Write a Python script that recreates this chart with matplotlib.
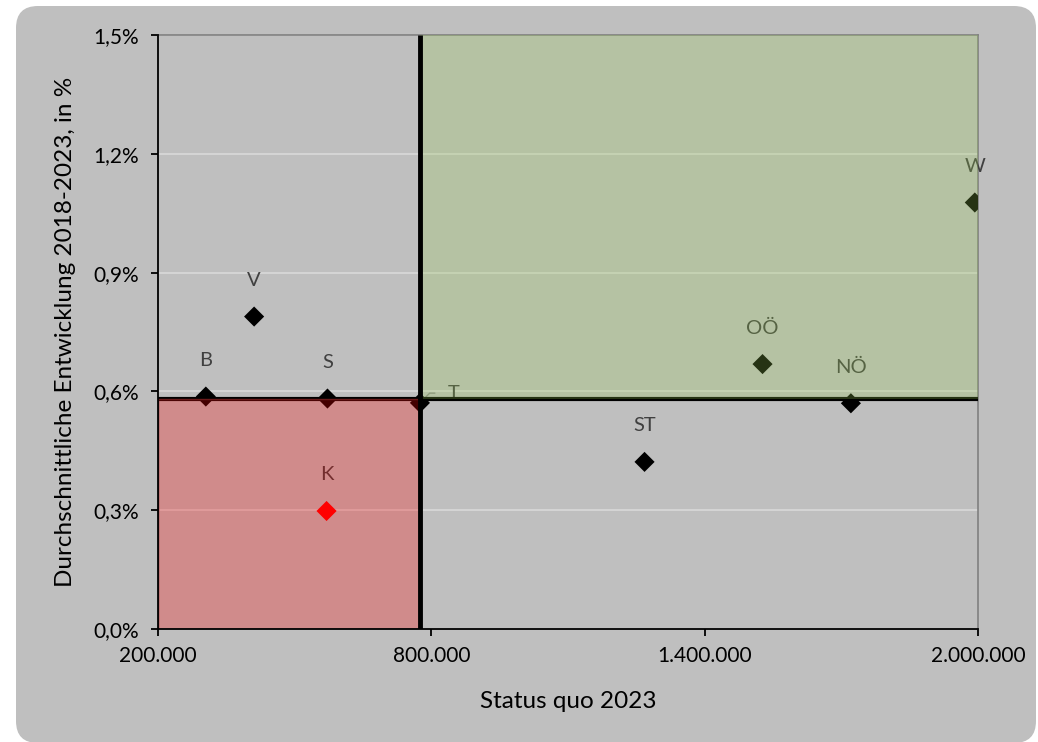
import numpy as np
import matplotlib
matplotlib.use("Agg")
import matplotlib.pyplot as plt
import matplotlib.transforms as mtransforms
from matplotlib.patches import FancyBboxPatch, Rectangle
from matplotlib.ticker import FuncFormatter, FixedLocator

plt.rcParams['font.family'] = ['Lato', 'DejaVu Sans']

# --- Data ---
regions = ["B", "V", "S", "K", "T", "ST", "OÖ", "NÖ", "W"]
status_quo = [305000, 411000, 572000, 570000, 775000, 1268000, 1527000, 1721000, 1993000]
growth_pct = [0.587, 0.789, 0.582, 0.298, 0.571, 0.422, 0.669, 0.570, 1.077]
point_colors = ["black", "black", "black", "red", "black", "black", "black", "black", "black"]

x_ticks = [200000, 800000, 1400000, 2000000]
y_ticks = [0.0, 0.3, 0.6, 0.9, 1.2, 1.5]

x_mid = np.median(status_quo)     # vertical split
y_mid = np.median(growth_pct)     # horizontal split

fig = plt.figure(figsize=(10.38, 7.42), dpi=100)
fig.patch.set_facecolor("white")

# rounded grey chart area
bg = FancyBboxPatch((16, -1), 1020, 737, boxstyle="round,pad=0,rounding_size=22",
                    transform=mtransforms.IdentityTransform(),
                    facecolor="#BFBFBF", edgecolor="none", zorder=-10)
fig.patches.append(bg)

ax = fig.add_axes([158 / 1038, 1 - 629 / 742, 820 / 1038, 594 / 742])
ax.set_zorder(1)
ax.set_facecolor("#BFBFBF")
ax.set_xlim(x_ticks[0], x_ticks[-1])
ax.set_ylim(y_ticks[0], y_ticks[-1])

# gridlines
ax.yaxis.grid(True, color="#D9D9D9", lw=1.2, zorder=0)
ax.set_axisbelow(True)

# points + labels
ax.scatter(status_quo, growth_pct, marker="D", s=105, c=point_colors,
           linewidths=0, zorder=3)
for name, x, y in zip(regions, status_quo, growth_pct):
    if name == "T":
        ax.annotate(name, (x, y), xytext=(24, 7), textcoords="offset points",
                    ha="center", va="center", fontsize=14.5, color="#404040", zorder=3,
                    arrowprops=dict(arrowstyle="-", color="#8c8c8c", lw=1,
                                    shrinkA=7, shrinkB=2,
                                    connectionstyle="angle,angleA=0,angleB=45,rad=0"))
    else:
        ax.annotate(name, (x, y), xytext=(0, 26), textcoords="offset points",
                    ha="center", va="center", fontsize=14.5, color="#404040", zorder=3)

# horizontal split line (under the overlays)
ax.plot([x_ticks[0], x_ticks[-1]], [y_mid, y_mid], color="black", lw=3,
        solid_capstyle="butt", zorder=3)

# coloured quadrants
ax.add_patch(Rectangle((x_mid, y_mid), x_ticks[-1] - x_mid, y_ticks[-1] - y_mid,
                       facecolor="#98CC50", alpha=0.25, edgecolor="none", zorder=4))
ax.add_patch(Rectangle((x_ticks[0], y_ticks[0]), x_mid - x_ticks[0], y_mid - y_ticks[0],
                       facecolor="#FF0000", alpha=0.27, edgecolor="none", zorder=4))
ax.add_patch(Rectangle((x_ticks[0], y_ticks[0]), x_mid - x_ticks[0], y_mid - y_ticks[0],
                       facecolor="none", edgecolor="#6b1a1a", lw=1, zorder=4))

# vertical split line
ax.plot([x_mid, x_mid], [y_ticks[0], y_ticks[-1]], color="black", lw=3.5,
        solid_capstyle="butt", zorder=5)

# axes styling
for side in ["top", "right"]:
    ax.spines[side].set_color("#808080")
    ax.spines[side].set_linewidth(1.2)
for side in ["left", "bottom"]:
    ax.spines[side].set_color("black")
    ax.spines[side].set_linewidth(1.3)
    ax.spines[side].set_zorder(6)

ax.xaxis.set_major_locator(FixedLocator(x_ticks))
ax.yaxis.set_major_locator(FixedLocator(y_ticks))
ax.xaxis.set_major_formatter(FuncFormatter(lambda v, p: f"{int(v):,}".replace(",", ".")))
ax.yaxis.set_major_formatter(FuncFormatter(lambda v, p: f"{v:.1f}%".replace(".", ",")))
ax.tick_params(direction="out", length=5, width=1.3, color="black",
               labelsize=15, labelcolor="black")
ax.tick_params(axis="x", pad=7)
ax.tick_params(axis="y", pad=9)

ax.set_xlabel("Status quo 2023", fontsize=17.5, va="center")
ax.set_ylabel("Durchschnittliche Entwicklung 2018-2023, in %", fontsize=17.5, va="center")
ax.xaxis.set_label_coords(0.5, (629 - 701) / 594)
ax.yaxis.set_label_coords((66 - 158) / 820, 0.5)

fig.savefig("out.png", dpi=100)
